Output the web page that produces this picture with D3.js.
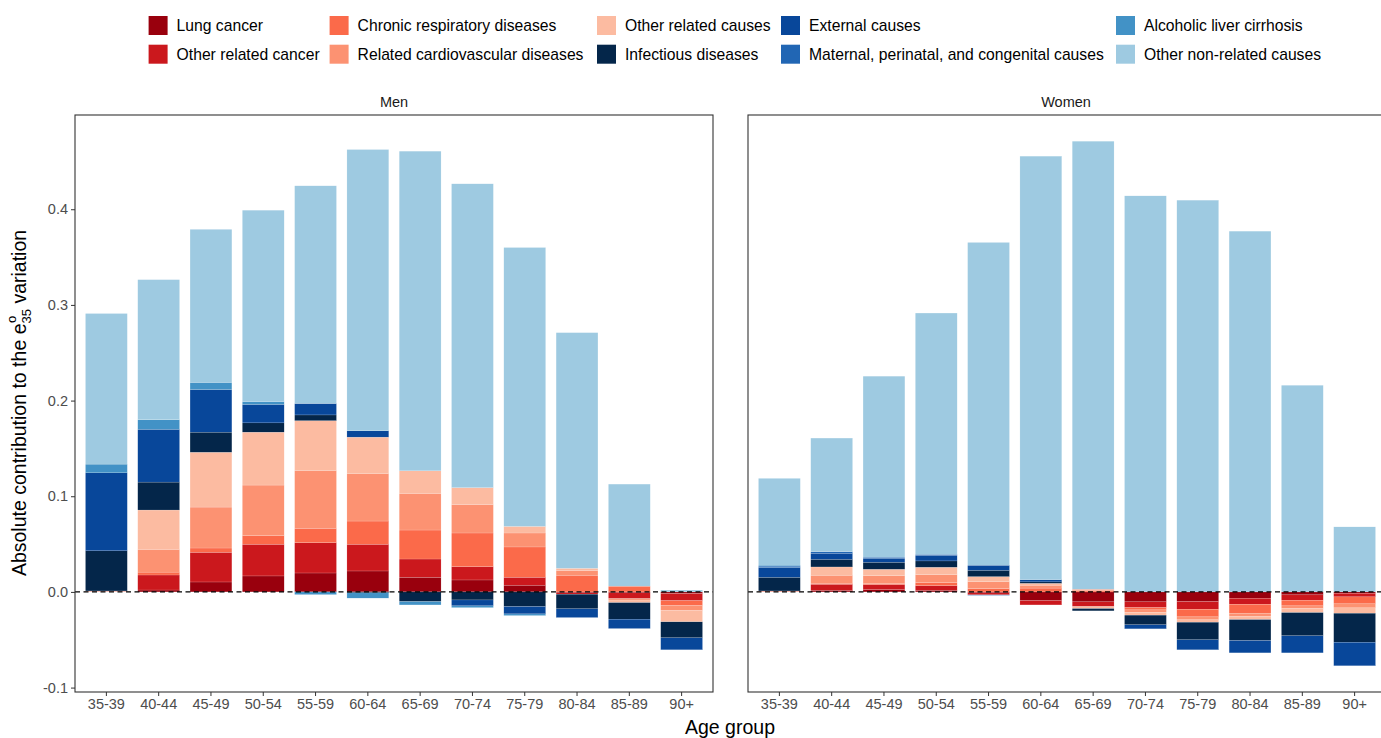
<!DOCTYPE html>
<html>
<head>
<meta charset="utf-8">
<script src="https://cdn.jsdelivr.net/npm/d3@7"></script>
<style>
  body { margin: 0; background: #fff; }
  svg { font-family: "Liberation Sans", Arial, sans-serif; display: block; }
  .tick text { fill: #4d4d4d; font-size: 14.5px; }
  .tick line { stroke: #333; }
</style>
</head>
<body>
<svg width="1381" height="738"></svg>
<script>
// age groups on the x axis
var ages = ["35-39", "40-44", "45-49", "50-54", "55-59", "60-64", "65-69", "70-74", "75-79", "80-84", "85-89", "90+"];

var causes = ["Lung cancer", "Other related cancer", "Chronic respiratory diseases", "Related cardiovascular diseases",
    "Other related causes", "Infectious diseases", "External causes", "Maternal, perinatal, and congenital causes",
    "Alcoholic liver cirrhosis", "Other non-related causes"];
var colors = ["#99000d", "#cb181d", "#fb6a4a", "#fc9272", "#fcbba1", "#04264a", "#08479a", "#2166b4", "#4292c6", "#9ecae1"];

// men, one array per cause (order as causes)
var menLung = [0, 0.002, 0.0104, 0.0167, 0.0198, 0.0219, 0.0153, 0.0125, 0.007, -0.001, -0.001, -0.0017];
var menOtherCancer = [0.0005, 0.0157, 0.031, 0.0331, 0.0317, 0.0279, 0.0191, 0.0139, 0.0083, -0.0014, -0.006, -0.0074];
var menChronic = [0, 0.003, 0.0045, 0.009, 0.015, 0.0243, 0.0303, 0.0352, 0.0317, 0.0174, 0.006, -0.0052];
var menCardio = [0, 0.0238, 0.0428, 0.0529, 0.0601, 0.0494, 0.0383, 0.0295, 0.0146, 0.005, -0.0015, -0.0052];
var menOtherRelated = [0.0005, 0.0411, 0.0573, 0.0553, 0.0524, 0.0383, 0.0236, 0.0179, 0.0069, 0.0023, -0.0027, -0.0118];
var menInfectious = [0.042, 0.0292, 0.021, 0.0097, 0.006, -0.001, -0.0101, -0.0084, -0.0153, -0.0153, -0.0173, -0.0167];
var menExternal = [0.0815, 0.0552, 0.0446, 0.0193, 0.012, 0.0066, 0, -0.0062, -0.0077, -0.0091, -0.0098, -0.0125];
var menMaternal = [0, 0, 0, 0, 0, 0, 0, 0, 0, 0, 0, 0];
var menAlcohol = [0.0091, 0.010, 0.0074, 0.003, -0.0028, -0.0055, -0.0035, -0.0018, -0.0017, 0, 0, 0];
var menNonRelated = [0.1574, 0.1464, 0.160, 0.200, 0.2275, 0.294, 0.3341, 0.3176, 0.2915, 0.2463, 0.1067, 0.002];

// women
var womenLung = [0, 0.0017, 0.0024, 0.0017, -0.001, -0.0091, -0.0104, -0.0104, -0.0101, -0.0066, -0.0031, -0.0014];
var womenOtherCancer = [0.0005, 0.0063, 0.0053, 0.0049, -0.0021, -0.0045, -0.0049, -0.006, -0.008, -0.0063, -0.0056, -0.0038];
var womenChronic = [0, 0.001, 0.001, 0.0031, 0.0035, 0.004, 0.0015, -0.0024, -0.008, -0.0094, -0.0059, -0.0073];
var womenCardio = [0.0005, 0.0084, 0.0083, 0.0083, 0.0073, 0.003, 0.0013, -0.0024, -0.0031, -0.0035, -0.0028, -0.0042];
var womenOtherRelated = [0, 0.0087, 0.0067, 0.0078, 0.0052, 0.002, -0.0021, -0.0031, -0.0025, -0.0031, -0.0042, -0.0056];
var womenInfectious = [0.0143, 0.008, 0.0073, 0.0066, 0.0066, 0.0015, -0.0024, -0.0101, -0.0184, -0.0219, -0.0243, -0.0303];
var womenExternal = [0.0101, 0.0063, 0.0042, 0.0059, 0.0053, 0.0023, 0, -0.0042, -0.0104, -0.0129, -0.0178, -0.0246];
var womenMaternal = [0.0016, 0.0016, 0.0011, 0.001, -0.0005, 0, 0, 0, 0, 0, 0, 0];
var womenAlcohol = [0.001, 0, 0, 0, 0, 0, 0, 0, 0, 0, 0, 0];
var womenNonRelated = [0.0907, 0.1188, 0.1892, 0.2522, 0.3374, 0.4427, 0.4683, 0.414, 0.4095, 0.3771, 0.216, 0.068];

var yTicks = [-0.1, 0, 0.1, 0.2, 0.3, 0.4];

var menSeries = [menLung, menOtherCancer, menChronic, menCardio, menOtherRelated, menInfectious, menExternal, menMaternal, menAlcohol, menNonRelated];
var womenSeries = [womenLung, womenOtherCancer, womenChronic, womenCardio, womenOtherRelated, womenInfectious, womenExternal, womenMaternal, womenAlcohol, womenNonRelated];

// rows for d3.stack
function toRows(series) {
    return ages.map(function (a, i) {
        var row = { age: a };
        causes.forEach(function (c, k) { row[c] = series[k][i]; });
        return row;
    });
}

const svg = d3.select('svg');
svg.append('rect').attr('width', 1381).attr('height', 738).attr('fill', '#fff');

const top_y = 115, bottom_y = 692;
var panels = [
    { name: "Men", x0: 75, x1: 713, rows: toRows(menSeries) },
    { name: "Women", x0: 748, x1: 1386, rows: toRows(womenSeries) }
];

const stack = d3.stack().keys(causes).offset(d3.stackOffsetDiverging);
panels.forEach(p => { p.stacked = stack(p.rows); });

// shared y scale with ggplot-like 5% expansion
var lo = d3.min(panels, p => d3.min(p.stacked, s => d3.min(s, d => d[0])));
var hi = d3.max(panels, p => d3.max(p.stacked, s => d3.max(s, d => d[1])));
var pad = (hi - lo) * 0.05;
const yScale = d3.scaleLinear().domain([lo - pad, hi + pad]).range([bottom_y, top_y]);

panels.forEach(function (p, pi) {
    const xScale = d3.scaleBand().domain(ages).range([p.x0, p.x1]).paddingInner(0.2).paddingOuter(0.2);
    const g = svg.append('g');

    // bars
    g.selectAll('g.layer')
        .data(p.stacked)
        .join('g')
        .attr('class', 'layer')
        .attr('fill', (d, i) => colors[i])
        .selectAll('rect')
        .data(d => d)
        .join('rect')
        .attr('x', d => xScale(d.data.age))
        .attr('width', xScale.bandwidth())
        .attr('y', d => yScale(Math.max(d[0], d[1])))
        .attr('height', d => Math.abs(yScale(d[0]) - yScale(d[1])))
        .attr('stroke', '#fff')
        .attr('stroke-width', 0.3)
        .attr('stroke-opacity', 0.5);

    // zero line
    g.append('line')
        .attr('x1', p.x0).attr('x2', p.x1)
        .attr('y1', yScale(0)).attr('y2', yScale(0))
        .attr('stroke', '#000').attr('stroke-width', 1.2)
        .attr('stroke-dasharray', '5,3.5');

    // panel border
    g.append('rect')
        .attr('x', p.x0).attr('y', top_y)
        .attr('width', p.x1 - p.x0).attr('height', bottom_y - top_y)
        .attr('fill', 'none').attr('stroke', '#333').attr('stroke-width', 1.1);

    // strip label
    g.append('text')
        .attr('x', pi == 0 ? (p.x0 + p.x1) / 2 : 1066)
        .attr('y', 107)
        .attr('text-anchor', 'middle')
        .attr('font-size', 14.5)
        .attr('fill', '#1a1a1a')
        .text(p.name);

    // x axis
    const xAxis = d3.axisBottom(xScale).tickSize(4).tickPadding(3);
    const xg = g.append('g').attr('transform', `translate(0,${bottom_y})`).call(xAxis);
    xg.select('.domain').remove();

    if (pi == 0) {
        const yAxis = d3.axisLeft(yScale).tickValues(yTicks).tickSize(4).tickPadding(3)
            .tickFormat(d => d.toFixed(1));
        const yg = g.append('g').attr('transform', `translate(${p.x0},0)`).call(yAxis);
        yg.select('.domain').remove();
    }
});

// axis titles
svg.append('text')
    .attr('x', 730).attr('y', 734)
    .attr('text-anchor', 'middle')
    .attr('font-size', 19.5)
    .text('Age group');

var yTitle = svg.append('g').attr('transform', 'translate(26,403) rotate(-90)');
var yt = yTitle.append('text').attr('font-size', 19.5).attr('x', 0).attr('y', 0);
var t1 = yt.append('tspan').text('Absolute contribution to the e');
yt.append('tspan').attr('font-size', 13).attr('dy', 5).text('35');
yt.append('tspan').attr('dy', -5).text(' variation');
var totalLen = yt.node().getComputedTextLength();
var preLen = t1.node().getComputedTextLength();
yt.attr('x', -totalLen / 2);
yTitle.append('text')
    .attr('font-size', 13)
    .attr('x', -totalLen / 2 + preLen + 0.5)
    .attr('y', -10)
    .text('o');

// legend
var legendCols = [148.6, 329.6, 597, 781, 1116];
var legendRows = [16, 44.7];
var legend = svg.append('g');
causes.forEach(function (c, i) {
    var col = Math.floor(i / 2), row = i % 2;
    var lg = legend.append('g').attr('transform', `translate(${legendCols[col]},${legendRows[row]})`);
    lg.append('rect').attr('width', 19).attr('height', 19).attr('fill', colors[i]);
    lg.append('text').attr('x', 28).attr('y', 15).attr('font-size', 15.7).attr('fill', '#000').text(c);
});
</script>
</body>
</html>
